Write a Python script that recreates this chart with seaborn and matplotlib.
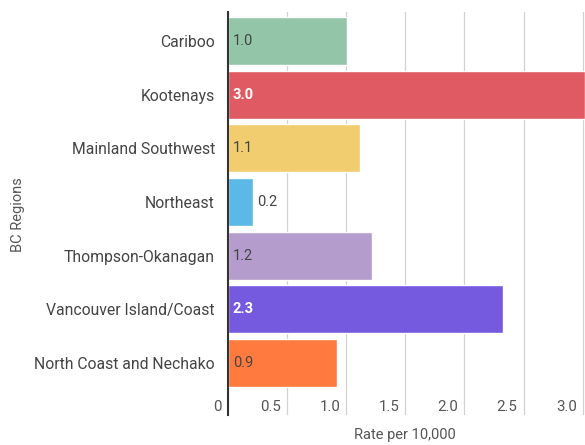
import matplotlib
matplotlib.use("Agg")
import matplotlib.pyplot as plt
import matplotlib.transforms as mtransforms
import seaborn as sns
import pandas as pd

regions = ["Cariboo", "Kootenays", "Mainland Southwest", "Northeast",
           "Thompson-Okanagan", "Vancouver Island/Coast", "North Coast and Nechako"]
rates = [1.01, 3.02, 1.12, 0.21, 1.22, 2.33, 0.92]
colors = ["#93C6A9", "#E05A63", "#F2CD6F", "#5CB8E6", "#B49CCC", "#7559DE", "#FF7A3E"]
label_colors = ["#444444", "#FFFFFF", "#444444", "#444444", "#444444", "#FFFFFF", "#444444"]
xticks = [0, 0.5, 1.0, 1.5, 2.0, 2.5, 3.0]
xtick_labels = ["0", "0.5", "1.0", "1.5", "2.0", "2.5", "3.0"]

sns.set_style("white")
plt.rcParams["font.family"] = ["Roboto", "DejaVu Sans"]

df = pd.DataFrame({"region": regions, "rate": rates})

fig = plt.figure(figsize=(5.85, 4.45), dpi=100)
ax = fig.add_axes([228 / 585, 1 - 415 / 445, 1 - 228 / 585, (415 - 12) / 445])

sns.barplot(data=df, y="region", x="rate", hue="region", palette=colors,
            order=regions, hue_order=regions, legend=False, width=0.89,
            saturation=1, ax=ax, zorder=2)

ax.set_xlim(0, 3.02)
ax.set_ylim(6.97, -0.54)
ax.set_xticks(xticks)
ax.set_xticklabels(xtick_labels)
ax.grid(axis="x", color="#D2D2D2", linewidth=0.9, zorder=0)
ax.grid(axis="y", visible=False)
for s in ["top", "right", "bottom"]:
    ax.spines[s].set_visible(False)
ax.spines["left"].set_color("#333333")
ax.spines["left"].set_linewidth(1.5)
ax.spines["left"].set_zorder(5)

ax.tick_params(axis="y", length=0, pad=9.4, labelsize=11.3, labelcolor="#444444")
ax.tick_params(axis="x", length=0, pad=-10.5, labelsize=10.8, labelcolor="#555555")
offset = mtransforms.ScaledTranslation(-6 / 100, 0, fig.dpi_scale_trans)
for lab in ax.get_xticklabels():
    lab.set_ha("right")
    lab.set_transform(lab.get_transform() + offset)

for i, (v, c) in enumerate(zip(rates, label_colors)):
    if v < 0.4:
        ax.annotate(f"{v:.1f}", (v, i), xytext=(3, 0), textcoords="offset points",
                    va="center", ha="left", color="#444444", fontsize=10.5)
    else:
        ax.annotate(f"{v:.1f}", (0, i), xytext=(3.5, 0), textcoords="offset points",
                    va="center", ha="left", color=c, fontsize=10.5,
                    fontweight="bold" if c == "#FFFFFF" else "normal")

ax.set_ylabel("")
ax.set_xlabel("")
fig.text(18 / 585, 1 - 215 / 445, "BC Regions", rotation=90, ha="center", va="center",
         color="#555555", fontsize=10.5)
fig.text(405 / 585, 1 - 435 / 445, "Rate per 10,000", ha="center", va="center",
         color="#555555", fontsize=10.5)

fig.savefig("out.png", dpi=100)
